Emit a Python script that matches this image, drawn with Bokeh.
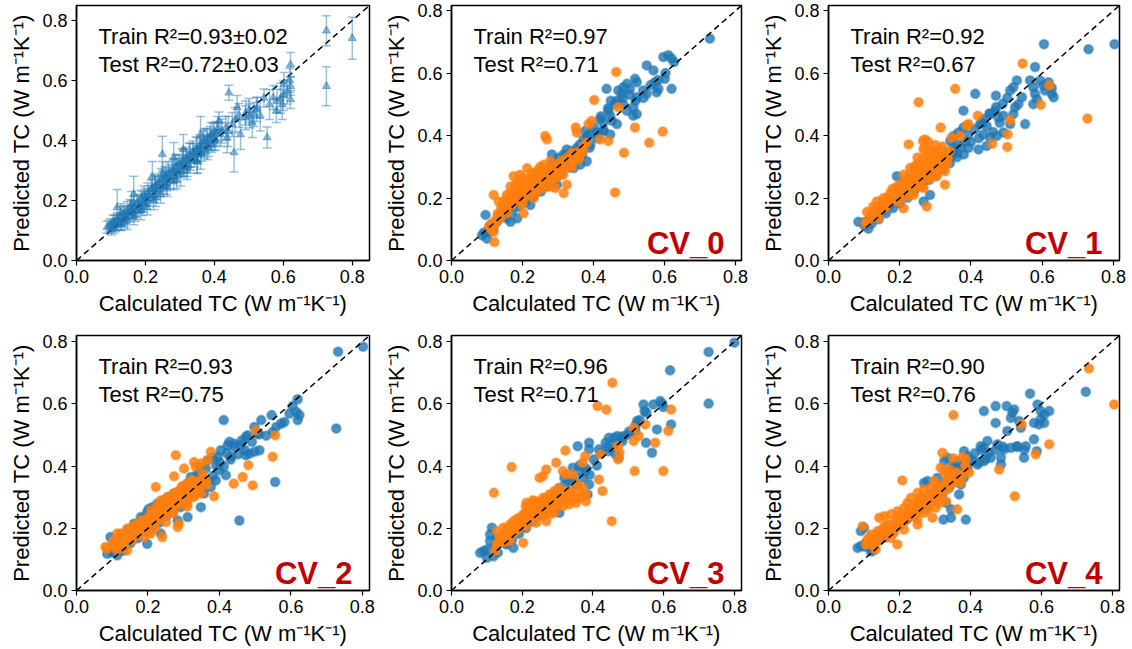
from bokeh.plotting import figure
from bokeh.models import ColumnDataSource, Whisker, TeeHead, Label, FixedTicker, PrintfTickFormatter
from bokeh.layouts import column, row
from bokeh.embed import file_html
from bokeh.resources import INLINE

FONT = "Liberation Sans"
BLUE = "#1f77b4"
ORANGE = "#ff7f0e"
RED = "#c00000"

# ---------------- data ----------------
tick_values = [0.0, 0.2, 0.4, 0.6, 0.8]
x_label = "Calculated TC (W m\u207b\u00b9K\u207b\u00b9)"
y_label = "Predicted TC (W m\u207b\u00b9K\u207b\u00b9)"

panel_names = ["", "CV_0", "CV_1", "CV_2", "CV_3", "CV_4"]
train_r2 = ["0.93\u00b10.02", "0.97", "0.92", "0.93", "0.96", "0.90"]
test_r2 = ["0.72\u00b10.03", "0.71", "0.67", "0.75", "0.71", "0.76"]
axis_limits = [0.85, 0.817, 0.817, 0.82, 0.82, 0.82]

# averaged predictions: (calculated, predicted, std)
avg_points = [
    (0.800, 0.741, 0.07), (0.725, 0.766, 0.05), (0.725, 0.581, 0.065), (0.621, 0.653, 0.04),
    (0.621, 0.581, 0.03), (0.621, 0.537, 0.03), (0.602, 0.587, 0.04), (0.582, 0.531, 0.04),
    (0.597, 0.520, 0.05), (0.553, 0.410, 0.035), (0.457, 0.360, 0.065), (0.466, 0.510, 0.04),
    (0.442, 0.559, 0.025), (0.515, 0.487, 0.04), (0.524, 0.509, 0.035), (0.544, 0.542, 0.03),
    (0.490, 0.476, 0.04), (0.476, 0.420, 0.05), (0.418, 0.420, 0.04), (0.437, 0.409, 0.05),
    (0.413, 0.465, 0.03), (0.399, 0.398, 0.03), (0.379, 0.376, 0.04), (0.360, 0.354, 0.05),
    (0.350, 0.332, 0.04), (0.321, 0.310, 0.03), (0.302, 0.288, 0.04), (0.282, 0.266, 0.03),
    (0.263, 0.243, 0.03), (0.244, 0.221, 0.03), (0.224, 0.199, 0.03), (0.205, 0.177, 0.025),
    (0.186, 0.166, 0.03), (0.166, 0.144, 0.025), (0.147, 0.133, 0.03), (0.128, 0.122, 0.02),
    (0.108, 0.111, 0.02), (0.089, 0.111, 0.02), (0.249, 0.354, 0.06), (0.166, 0.221, 0.06),
    (0.118, 0.177, 0.06), (0.282, 0.343, 0.05), (0.12, 0.14, 0.02), (0.13, 0.12, 0.02),
    (0.14, 0.15, 0.03), (0.15, 0.16, 0.02), (0.16, 0.17, 0.03), (0.17, 0.18, 0.02),
    (0.18, 0.19, 0.03), (0.19, 0.21, 0.02), (0.20, 0.21, 0.03), (0.21, 0.22, 0.03),
    (0.22, 0.24, 0.03), (0.23, 0.25, 0.03), (0.24, 0.26, 0.02), (0.25, 0.27, 0.03),
    (0.26, 0.28, 0.03), (0.27, 0.29, 0.03), (0.28, 0.30, 0.04), (0.29, 0.31, 0.03),
    (0.30, 0.32, 0.03), (0.31, 0.33, 0.04), (0.32, 0.34, 0.03), (0.33, 0.35, 0.04),
    (0.34, 0.36, 0.03), (0.35, 0.37, 0.04), (0.36, 0.38, 0.03), (0.37, 0.40, 0.04),
    (0.38, 0.41, 0.03), (0.39, 0.42, 0.04), (0.40, 0.43, 0.03), (0.14, 0.13, 0.02),
    (0.17, 0.15, 0.02), (0.20, 0.19, 0.02), (0.23, 0.21, 0.03), (0.26, 0.25, 0.03),
    (0.29, 0.27, 0.03), (0.32, 0.30, 0.03), (0.35, 0.33, 0.04), (0.10, 0.12, 0.02),
    (0.11, 0.13, 0.02), (0.16, 0.19, 0.04), (0.22, 0.28, 0.05), (0.31, 0.37, 0.05),
    (0.36, 0.42, 0.06), (0.41, 0.44, 0.04), (0.44, 0.43, 0.05), (0.46, 0.47, 0.04),
    (0.50, 0.50, 0.04), (0.51, 0.46, 0.05), (0.56, 0.52, 0.05), (0.58, 0.50, 0.04),
    (0.60, 0.55, 0.05), (0.13, 0.16, 0.03), (0.25, 0.29, 0.04), (0.19, 0.17, 0.02),
    (0.095, 0.115, 0.02), (0.102, 0.105, 0.02), (0.106, 0.127, 0.025), (0.113, 0.116, 0.02),
    (0.117, 0.136, 0.02), (0.122, 0.127, 0.025), (0.126, 0.148, 0.03), (0.133, 0.137, 0.02),
    (0.137, 0.158, 0.025), (0.142, 0.146, 0.02), (0.147, 0.167, 0.03), (0.153, 0.152, 0.02),
    (0.156, 0.178, 0.025), (0.162, 0.163, 0.02), (0.167, 0.183, 0.03), (0.172, 0.166, 0.02),
    (0.176, 0.193, 0.025), (0.183, 0.178, 0.02), (0.187, 0.204, 0.03), (0.192, 0.186, 0.025),
    (0.196, 0.218, 0.03), (0.202, 0.203, 0.02), (0.207, 0.228, 0.03), (0.212, 0.207, 0.025),
    (0.216, 0.238, 0.03), (0.223, 0.217, 0.02), (0.227, 0.248, 0.035), (0.232, 0.228, 0.025),
    (0.236, 0.258, 0.03), (0.242, 0.236, 0.025), (0.246, 0.272, 0.035), (0.252, 0.247, 0.025),
    (0.257, 0.283, 0.03), (0.262, 0.257, 0.025), (0.266, 0.293, 0.035), (0.272, 0.268, 0.03),
    (0.277, 0.302, 0.03), (0.283, 0.281, 0.025), (0.287, 0.313, 0.04), (0.292, 0.292, 0.03),
    (0.296, 0.323, 0.03), (0.303, 0.302, 0.025), (0.307, 0.333, 0.04), (0.312, 0.311, 0.03),
    (0.317, 0.342, 0.035), (0.323, 0.322, 0.03), (0.327, 0.352, 0.04), (0.332, 0.331, 0.03),
    (0.337, 0.363, 0.035), (0.342, 0.342, 0.03), (0.347, 0.372, 0.04), (0.352, 0.352, 0.03),
    (0.357, 0.383, 0.035), (0.362, 0.361, 0.03), (0.367, 0.392, 0.04), (0.372, 0.371, 0.03),
    (0.376, 0.397, 0.04), (0.383, 0.382, 0.035), (0.387, 0.407, 0.04), (0.392, 0.391, 0.03),
    (0.396, 0.418, 0.04), (0.403, 0.402, 0.035), (0.407, 0.423, 0.04), (0.422, 0.432, 0.04),
    (0.433, 0.441, 0.04), (0.452, 0.453, 0.04), (0.472, 0.483, 0.04), (0.491, 0.492, 0.04),
    (0.503, 0.482, 0.04), (0.522, 0.503, 0.04), (0.533, 0.482, 0.05), (0.571, 0.543, 0.04),
    (0.592, 0.541, 0.05), (0.611, 0.562, 0.04), (0.618, 0.601, 0.04),
]

cv0_train = [
    (0.728, 0.711), (0.597, 0.652), (0.611, 0.658), (0.620, 0.647), (0.627, 0.636), (0.550, 0.625),
    (0.569, 0.609), (0.601, 0.582), (0.573, 0.571), (0.517, 0.582), (0.522, 0.571), (0.494, 0.566),
    (0.484, 0.555), (0.503, 0.550), (0.437, 0.550), (0.470, 0.545), (0.480, 0.534), (0.540, 0.545),
    (0.550, 0.534), (0.522, 0.523), (0.578, 0.539), (0.583, 0.550), (0.620, 0.550), (0.449, 0.512),
    (0.466, 0.512), (0.484, 0.501), (0.512, 0.491), (0.522, 0.469), (0.494, 0.480), (0.512, 0.464),
    (0.442, 0.480), (0.447, 0.464), (0.466, 0.437), (0.419, 0.453), (0.428, 0.442), (0.409, 0.410),
    (0.428, 0.415), (0.447, 0.404), (0.377, 0.415), (0.391, 0.404), (0.372, 0.388), (0.391, 0.372),
    (0.353, 0.361), (0.339, 0.350), (0.325, 0.356), (0.316, 0.340), (0.302, 0.329), (0.283, 0.340),
    (0.363, 0.307), (0.381, 0.318), (0.334, 0.307), (0.344, 0.296), (0.297, 0.286), (0.306, 0.275),
    (0.260, 0.275), (0.241, 0.253), (0.213, 0.232), (0.231, 0.210), (0.166, 0.200), (0.175, 0.178),
    (0.147, 0.156), (0.156, 0.135), (0.128, 0.124), (0.110, 0.113), (0.096, 0.146), (0.086, 0.081),
    (0.100, 0.070), (0.105, 0.092), (0.166, 0.124), (0.185, 0.135), (0.222, 0.178), (0.278, 0.253),
    (0.297, 0.243), (0.092, 0.090), (0.118, 0.101), (0.132, 0.142), (0.151, 0.143), (0.171, 0.158),
    (0.189, 0.172), (0.209, 0.188), (0.231, 0.203), (0.252, 0.221), (0.271, 0.238), (0.291, 0.262),
    (0.309, 0.281), (0.331, 0.298), (0.349, 0.322), (0.368, 0.338), (0.389, 0.361), (0.411, 0.392),
    (0.428, 0.418), (0.452, 0.448), (0.362, 0.372), (0.382, 0.398), (0.401, 0.428), (0.421, 0.462),
    (0.441, 0.488), (0.461, 0.502), (0.482, 0.522), (0.501, 0.531), (0.519, 0.512), (0.541, 0.521),
    (0.561, 0.562), (0.582, 0.578), (0.603, 0.601), (0.322, 0.338), (0.302, 0.318), (0.281, 0.308),
]
cv0_test = [
    (0.464, 0.604), (0.402, 0.514), (0.470, 0.491), (0.517, 0.426), (0.595, 0.413), (0.557, 0.377),
    (0.486, 0.345), (0.461, 0.218), (0.419, 0.388), (0.442, 0.383), (0.350, 0.426), (0.353, 0.410),
    (0.386, 0.437), (0.395, 0.447), (0.264, 0.399), (0.269, 0.388), (0.381, 0.377), (0.372, 0.367),
    (0.339, 0.345), (0.353, 0.334), (0.363, 0.342), (0.325, 0.329), (0.334, 0.313), (0.306, 0.307),
    (0.316, 0.296), (0.297, 0.291), (0.278, 0.318), (0.260, 0.307), (0.245, 0.291), (0.213, 0.296),
    (0.231, 0.280), (0.175, 0.270), (0.194, 0.275), (0.222, 0.264), (0.269, 0.264), (0.288, 0.275),
    (0.325, 0.243), (0.316, 0.216), (0.292, 0.232), (0.278, 0.237), (0.241, 0.248), (0.260, 0.232),
    (0.203, 0.243), (0.213, 0.232), (0.189, 0.226), (0.175, 0.221), (0.156, 0.210), (0.166, 0.216),
    (0.152, 0.194), (0.119, 0.210), (0.133, 0.189), (0.185, 0.205), (0.194, 0.189), (0.222, 0.216),
    (0.231, 0.200), (0.241, 0.221), (0.171, 0.178), (0.147, 0.167), (0.156, 0.151), (0.203, 0.151),
    (0.138, 0.135), (0.124, 0.119), (0.110, 0.102), (0.105, 0.108), (0.119, 0.092), (0.121, 0.059),
    (0.185, 0.253), (0.203, 0.264), (0.166, 0.237), (0.250, 0.270), (0.300, 0.270), (0.340, 0.300),
    (0.230, 0.250), (0.210, 0.215), (0.280, 0.250), (0.130, 0.150), (0.140, 0.170), (0.145, 0.185),
    (0.160, 0.180), (0.165, 0.195), (0.175, 0.200), (0.180, 0.215), (0.190, 0.210), (0.195, 0.230),
    (0.200, 0.225), (0.205, 0.200), (0.210, 0.245), (0.215, 0.255), (0.220, 0.235), (0.225, 0.250),
    (0.235, 0.240), (0.235, 0.265), (0.245, 0.255), (0.250, 0.235), (0.255, 0.280), (0.260, 0.255),
    (0.265, 0.245), (0.270, 0.285), (0.275, 0.270), (0.285, 0.260), (0.290, 0.295), (0.295, 0.265),
    (0.300, 0.310), (0.305, 0.285), (0.310, 0.320), (0.315, 0.275), (0.320, 0.310), (0.330, 0.300),
    (0.335, 0.330), (0.345, 0.320), (0.355, 0.345), (0.360, 0.325), (0.370, 0.350), (0.180, 0.240),
    (0.155, 0.165), (0.125, 0.130), (0.115, 0.120), (0.200, 0.180), (0.240, 0.230), (0.280, 0.290),
    (0.250, 0.300), (0.225, 0.280), (0.195, 0.250),
]

cv1_train = [
    (0.803, 0.693), (0.730, 0.677), (0.605, 0.693), (0.580, 0.620), (0.594, 0.577), (0.603, 0.561),
    (0.618, 0.571), (0.627, 0.553), (0.608, 0.545), (0.566, 0.577), (0.575, 0.555), (0.580, 0.534),
    (0.585, 0.517), (0.575, 0.501), (0.552, 0.437), (0.627, 0.534), (0.632, 0.523), (0.529, 0.577),
    (0.519, 0.555), (0.510, 0.545), (0.543, 0.523), (0.533, 0.501), (0.524, 0.491), (0.412, 0.534),
    (0.470, 0.528), (0.379, 0.480), (0.468, 0.480), (0.477, 0.458), (0.454, 0.469), (0.435, 0.453),
    (0.444, 0.431), (0.426, 0.437), (0.491, 0.464), (0.510, 0.437), (0.519, 0.469), (0.435, 0.404),
    (0.454, 0.394), (0.472, 0.399), (0.491, 0.410), (0.444, 0.367), (0.393, 0.361), (0.421, 0.356),
    (0.379, 0.426), (0.365, 0.410), (0.351, 0.399), (0.342, 0.383), (0.351, 0.361), (0.360, 0.345),
    (0.342, 0.329), (0.323, 0.318), (0.313, 0.296), (0.299, 0.286), (0.285, 0.275), (0.267, 0.253),
    (0.248, 0.243), (0.211, 0.253), (0.192, 0.270), (0.229, 0.232), (0.211, 0.210), (0.192, 0.189),
    (0.173, 0.178), (0.154, 0.162), (0.136, 0.146), (0.117, 0.135), (0.103, 0.124), (0.084, 0.124),
    (0.112, 0.102), (0.267, 0.189), (0.285, 0.210), (0.400, 0.380), (0.380, 0.340), (0.101, 0.112),
    (0.121, 0.118), (0.141, 0.132), (0.161, 0.151), (0.181, 0.168), (0.201, 0.182), (0.222, 0.201),
    (0.241, 0.222), (0.262, 0.238), (0.281, 0.258), (0.301, 0.271), (0.321, 0.292), (0.341, 0.312),
    (0.361, 0.331), (0.372, 0.362), (0.383, 0.381), (0.362, 0.372), (0.392, 0.402), (0.411, 0.421),
    (0.431, 0.442), (0.452, 0.471), (0.471, 0.492), (0.489, 0.502), (0.502, 0.521), (0.481, 0.441),
    (0.462, 0.412), (0.422, 0.392), (0.331, 0.332), (0.352, 0.351), (0.311, 0.312), (0.291, 0.291),
]
cv1_test = [
    (0.545, 0.631), (0.356, 0.550), (0.253, 0.507), (0.620, 0.561), (0.596, 0.499), (0.727, 0.455),
    (0.510, 0.450), (0.503, 0.404), (0.502, 0.364), (0.460, 0.374), (0.419, 0.464), (0.393, 0.437),
    (0.388, 0.433), (0.370, 0.399), (0.346, 0.394), (0.315, 0.426), (0.225, 0.372), (0.265, 0.383),
    (0.271, 0.388), (0.267, 0.356), (0.285, 0.350), (0.299, 0.340), (0.318, 0.350), (0.323, 0.329),
    (0.309, 0.318), (0.332, 0.307), (0.285, 0.307), (0.267, 0.329), (0.248, 0.307), (0.229, 0.296),
    (0.211, 0.275), (0.257, 0.275), (0.276, 0.264), (0.304, 0.270), (0.327, 0.286), (0.229, 0.253),
    (0.248, 0.237), (0.267, 0.232), (0.192, 0.232), (0.201, 0.216), (0.220, 0.205), (0.173, 0.216),
    (0.154, 0.200), (0.164, 0.183), (0.136, 0.189), (0.126, 0.173), (0.150, 0.167), (0.192, 0.189),
    (0.211, 0.167), (0.239, 0.210), (0.276, 0.173), (0.327, 0.243), (0.108, 0.156), (0.117, 0.146),
    (0.108, 0.124), (0.103, 0.119), (0.140, 0.135), (0.240, 0.280), (0.220, 0.240), (0.300, 0.300),
    (0.260, 0.290), (0.120, 0.140), (0.130, 0.160), (0.145, 0.175), (0.155, 0.190), (0.165, 0.200),
    (0.175, 0.195), (0.185, 0.215), (0.195, 0.240), (0.205, 0.225), (0.210, 0.250), (0.215, 0.235),
    (0.225, 0.265), (0.230, 0.275), (0.235, 0.245), (0.240, 0.300), (0.245, 0.265), (0.250, 0.285),
    (0.255, 0.255), (0.260, 0.310), (0.265, 0.270), (0.270, 0.300), (0.275, 0.285), (0.280, 0.335),
    (0.285, 0.260), (0.290, 0.320), (0.295, 0.290), (0.300, 0.345), (0.305, 0.280), (0.310, 0.330),
    (0.315, 0.300), (0.320, 0.365), (0.325, 0.310), (0.330, 0.340), (0.335, 0.325), (0.340, 0.350),
    (0.280, 0.380), (0.270, 0.360), (0.300, 0.370), (0.310, 0.355), (0.200, 0.195), (0.180, 0.230),
    (0.160, 0.170), (0.140, 0.150), (0.230, 0.220), (0.260, 0.240), (0.250, 0.330), (0.290, 0.350),
]

cv2_train = [
    (0.802, 0.784), (0.732, 0.768), (0.727, 0.521), (0.556, 0.349), (0.456, 0.225), (0.412, 0.548),
    (0.619, 0.615), (0.605, 0.593), (0.615, 0.574), (0.619, 0.548), (0.596, 0.569), (0.582, 0.542),
    (0.624, 0.564), (0.546, 0.564), (0.517, 0.548), (0.498, 0.526), (0.507, 0.505), (0.559, 0.526),
    (0.573, 0.537), (0.549, 0.510), (0.512, 0.451), (0.498, 0.446), (0.484, 0.440), (0.474, 0.435),
    (0.479, 0.499), (0.474, 0.494), (0.460, 0.467), (0.428, 0.478), (0.423, 0.467), (0.442, 0.462),
    (0.432, 0.430), (0.404, 0.451), (0.395, 0.430), (0.400, 0.387), (0.418, 0.371), (0.390, 0.354),
    (0.367, 0.419), (0.348, 0.397), (0.339, 0.376), (0.320, 0.365), (0.311, 0.344), (0.297, 0.333),
    (0.273, 0.312), (0.259, 0.301), (0.245, 0.290), (0.226, 0.279), (0.212, 0.268), (0.198, 0.252),
    (0.180, 0.236), (0.161, 0.215), (0.142, 0.193), (0.124, 0.172), (0.105, 0.150), (0.095, 0.129),
    (0.086, 0.118), (0.114, 0.113), (0.095, 0.172), (0.198, 0.150), (0.236, 0.183), (0.283, 0.225),
    (0.311, 0.236), (0.348, 0.268), (0.357, 0.312), (0.376, 0.333), (0.101, 0.122), (0.131, 0.128),
    (0.151, 0.152), (0.171, 0.168), (0.191, 0.188), (0.211, 0.202), (0.231, 0.218), (0.251, 0.238),
    (0.271, 0.262), (0.291, 0.268), (0.309, 0.291), (0.331, 0.308), (0.351, 0.331), (0.369, 0.352),
    (0.382, 0.368), (0.391, 0.402), (0.401, 0.412), (0.412, 0.398), (0.431, 0.421), (0.452, 0.438),
    (0.471, 0.452), (0.362, 0.392), (0.341, 0.372), (0.381, 0.428), (0.421, 0.441), (0.441, 0.472),
    (0.462, 0.482), (0.491, 0.478), (0.511, 0.502), (0.531, 0.498), (0.202, 0.262), (0.182, 0.228),
]
cv2_test = [
    (0.502, 0.515), (0.556, 0.499), (0.549, 0.430), (0.481, 0.403), (0.440, 0.344), (0.465, 0.365),
    (0.493, 0.338), (0.278, 0.435), (0.273, 0.367), (0.222, 0.333), (0.301, 0.392), (0.329, 0.413),
    (0.334, 0.397), (0.348, 0.408), (0.367, 0.419), (0.376, 0.446), (0.353, 0.376), (0.362, 0.354),
    (0.385, 0.303), (0.320, 0.349), (0.339, 0.333), (0.348, 0.312), (0.329, 0.301), (0.311, 0.322),
    (0.292, 0.322), (0.273, 0.312), (0.254, 0.301), (0.264, 0.285), (0.236, 0.290), (0.226, 0.274),
    (0.245, 0.268), (0.283, 0.274), (0.301, 0.290), (0.208, 0.258), (0.217, 0.242), (0.198, 0.226),
    (0.226, 0.226), (0.236, 0.247), (0.180, 0.226), (0.161, 0.209), (0.170, 0.193), (0.142, 0.199),
    (0.124, 0.183), (0.133, 0.161), (0.114, 0.183), (0.105, 0.161), (0.086, 0.134), (0.081, 0.140),
    (0.189, 0.172), (0.208, 0.183), (0.240, 0.172), (0.283, 0.204), (0.287, 0.215), (0.156, 0.161),
    (0.142, 0.129), (0.114, 0.129), (0.250, 0.260), (0.270, 0.250), (0.310, 0.280), (0.100, 0.150),
    (0.110, 0.140), (0.120, 0.165), (0.130, 0.150), (0.140, 0.175), (0.150, 0.185), (0.155, 0.200),
    (0.165, 0.180), (0.170, 0.210), (0.180, 0.200), (0.185, 0.220), (0.190, 0.210), (0.200, 0.235),
    (0.205, 0.215), (0.210, 0.245), (0.220, 0.230), (0.225, 0.255), (0.230, 0.240), (0.235, 0.265),
    (0.240, 0.250), (0.245, 0.280), (0.250, 0.240), (0.255, 0.295), (0.260, 0.270), (0.265, 0.300),
    (0.270, 0.280), (0.275, 0.310), (0.280, 0.290), (0.285, 0.320), (0.290, 0.280), (0.295, 0.335),
    (0.300, 0.310), (0.305, 0.300), (0.310, 0.345), (0.315, 0.325), (0.320, 0.300), (0.325, 0.355),
    (0.330, 0.320), (0.340, 0.350), (0.345, 0.330), (0.355, 0.360), (0.365, 0.340), (0.270, 0.250),
    (0.250, 0.220), (0.220, 0.200), (0.200, 0.190), (0.310, 0.270),
]

cv3_train = [
    (0.800, 0.797), (0.727, 0.767), (0.727, 0.601), (0.618, 0.708), (0.621, 0.534), (0.581, 0.518),
    (0.567, 0.443), (0.550, 0.475), (0.543, 0.598), (0.546, 0.577), (0.571, 0.598), (0.590, 0.609),
    (0.599, 0.590), (0.595, 0.601), (0.525, 0.545), (0.520, 0.513), (0.501, 0.502), (0.487, 0.497),
    (0.483, 0.480), (0.469, 0.497), (0.459, 0.491), (0.445, 0.491), (0.436, 0.475), (0.445, 0.448),
    (0.464, 0.438), (0.473, 0.427), (0.389, 0.475), (0.389, 0.454), (0.417, 0.454), (0.357, 0.464),
    (0.343, 0.395), (0.361, 0.384), (0.380, 0.384), (0.319, 0.362), (0.333, 0.352), (0.385, 0.309),
    (0.389, 0.341), (0.305, 0.330), (0.287, 0.309), (0.273, 0.287), (0.254, 0.277), (0.240, 0.261),
    (0.221, 0.245), (0.305, 0.250), (0.203, 0.223), (0.184, 0.207), (0.165, 0.196), (0.147, 0.180),
    (0.128, 0.169), (0.109, 0.159), (0.109, 0.180), (0.114, 0.202), (0.091, 0.127), (0.081, 0.121),
    (0.100, 0.105), (0.119, 0.110), (0.175, 0.137), (0.156, 0.148), (0.101, 0.132), (0.121, 0.141),
    (0.131, 0.122), (0.151, 0.152), (0.171, 0.162), (0.191, 0.182), (0.211, 0.201), (0.231, 0.222),
    (0.251, 0.241), (0.271, 0.258), (0.291, 0.281), (0.311, 0.302), (0.331, 0.318), (0.351, 0.342),
    (0.371, 0.362), (0.362, 0.402), (0.381, 0.392), (0.402, 0.421), (0.421, 0.442), (0.441, 0.461),
    (0.462, 0.472), (0.481, 0.492), (0.502, 0.511), (0.521, 0.532), (0.532, 0.548), (0.551, 0.572),
    (0.391, 0.372), (0.411, 0.402), (0.342, 0.362), (0.322, 0.341),
]
cv3_test = [
    (0.455, 0.668), (0.413, 0.593), (0.438, 0.582), (0.621, 0.582), (0.548, 0.534), (0.515, 0.523),
    (0.529, 0.497), (0.515, 0.481), (0.613, 0.513), (0.576, 0.475), (0.471, 0.464), (0.475, 0.443),
    (0.471, 0.422), (0.421, 0.438), (0.378, 0.432), (0.371, 0.411), (0.322, 0.450), (0.296, 0.411),
    (0.268, 0.389), (0.170, 0.397), (0.518, 0.384), (0.599, 0.384), (0.453, 0.223), (0.417, 0.357),
    (0.427, 0.320), (0.120, 0.314), (0.249, 0.362), (0.259, 0.368), (0.315, 0.384), (0.324, 0.373),
    (0.343, 0.373), (0.357, 0.341), (0.371, 0.330), (0.305, 0.330), (0.291, 0.320), (0.277, 0.309),
    (0.333, 0.314), (0.352, 0.298), (0.380, 0.287), (0.259, 0.298), (0.240, 0.287), (0.226, 0.277),
    (0.212, 0.282), (0.296, 0.279), (0.315, 0.271), (0.333, 0.277), (0.352, 0.282), (0.226, 0.255),
    (0.203, 0.245), (0.193, 0.234), (0.231, 0.245), (0.259, 0.250), (0.277, 0.245), (0.175, 0.223),
    (0.165, 0.212), (0.147, 0.202), (0.128, 0.191), (0.184, 0.196), (0.212, 0.207), (0.240, 0.218),
    (0.268, 0.223), (0.137, 0.169), (0.156, 0.180), (0.203, 0.153), (0.165, 0.159), (0.123, 0.127),
    (0.128, 0.148), (0.250, 0.260), (0.280, 0.265), (0.300, 0.290), (0.130, 0.150), (0.140, 0.170),
    (0.145, 0.155), (0.155, 0.190), (0.160, 0.175), (0.170, 0.200), (0.175, 0.185), (0.180, 0.210),
    (0.190, 0.200), (0.195, 0.225), (0.200, 0.215), (0.205, 0.240), (0.210, 0.230), (0.215, 0.255),
    (0.220, 0.245), (0.225, 0.265), (0.230, 0.235), (0.235, 0.275), (0.240, 0.255), (0.245, 0.280),
    (0.250, 0.245), (0.255, 0.285), (0.260, 0.265), (0.265, 0.295), (0.270, 0.260), (0.275, 0.300),
    (0.280, 0.280), (0.285, 0.305), (0.290, 0.270), (0.295, 0.315), (0.300, 0.275), (0.305, 0.310),
    (0.310, 0.285), (0.320, 0.320), (0.325, 0.290), (0.335, 0.300), (0.340, 0.320), (0.350, 0.295),
    (0.360, 0.315), (0.370, 0.300), (0.380, 0.310), (0.230, 0.290), (0.210, 0.270), (0.185, 0.230),
    (0.160, 0.200), (0.260, 0.240), (0.290, 0.250),
]

cv4_train = [
    (0.725, 0.639), (0.568, 0.633), (0.438, 0.577), (0.471, 0.593), (0.502, 0.593), (0.518, 0.572),
    (0.523, 0.582), (0.514, 0.555), (0.471, 0.539), (0.589, 0.598), (0.598, 0.577), (0.608, 0.566),
    (0.622, 0.577), (0.598, 0.550), (0.608, 0.539), (0.579, 0.539), (0.593, 0.534), (0.537, 0.545),
    (0.542, 0.523), (0.504, 0.513), (0.579, 0.486), (0.587, 0.448), (0.551, 0.427), (0.556, 0.464),
    (0.532, 0.464), (0.514, 0.459), (0.495, 0.454), (0.476, 0.470), (0.448, 0.481), (0.438, 0.459),
    (0.429, 0.464), (0.486, 0.427), (0.486, 0.405), (0.457, 0.427), (0.438, 0.416), (0.420, 0.405),
    (0.401, 0.416), (0.382, 0.448), (0.392, 0.395), (0.363, 0.416), (0.354, 0.395), (0.345, 0.373),
    (0.335, 0.427), (0.326, 0.416), (0.382, 0.363), (0.373, 0.341), (0.368, 0.309), (0.324, 0.228),
    (0.345, 0.234), (0.387, 0.228), (0.345, 0.261), (0.331, 0.282), (0.269, 0.346), (0.279, 0.352),
    (0.307, 0.362), (0.326, 0.341), (0.307, 0.330), (0.288, 0.309), (0.269, 0.287), (0.255, 0.277),
    (0.241, 0.255), (0.223, 0.234), (0.204, 0.223), (0.185, 0.202), (0.166, 0.186), (0.147, 0.175),
    (0.129, 0.164), (0.115, 0.159), (0.082, 0.137), (0.091, 0.143), (0.105, 0.153), (0.119, 0.127),
    (0.091, 0.191), (0.100, 0.202), (0.124, 0.127), (0.101, 0.141), (0.121, 0.152), (0.141, 0.162),
    (0.161, 0.171), (0.181, 0.192), (0.201, 0.211), (0.221, 0.228), (0.241, 0.242), (0.261, 0.262),
    (0.281, 0.271), (0.301, 0.292), (0.321, 0.311), (0.341, 0.332), (0.361, 0.352), (0.372, 0.382),
    (0.381, 0.402), (0.402, 0.421), (0.412, 0.441), (0.431, 0.452), (0.451, 0.442), (0.471, 0.452),
    (0.492, 0.462), (0.442, 0.422), (0.422, 0.412), (0.392, 0.432), (0.352, 0.402), (0.342, 0.382),
    (0.332, 0.352), (0.362, 0.392), (0.531, 0.462), (0.552, 0.452),
]
cv4_test = [
    (0.734, 0.714), (0.805, 0.598), (0.352, 0.564), (0.544, 0.534), (0.622, 0.470), (0.584, 0.438),
    (0.481, 0.389), (0.525, 0.303), (0.321, 0.443), (0.352, 0.425), (0.377, 0.429), (0.387, 0.421),
    (0.392, 0.384), (0.396, 0.379), (0.208, 0.354), (0.363, 0.261), (0.194, 0.148), (0.096, 0.207),
    (0.316, 0.395), (0.326, 0.384), (0.345, 0.373), (0.354, 0.362), (0.373, 0.346), (0.335, 0.341),
    (0.298, 0.352), (0.307, 0.336), (0.288, 0.330), (0.269, 0.325), (0.251, 0.314), (0.307, 0.309),
    (0.331, 0.287), (0.232, 0.298), (0.223, 0.282), (0.213, 0.266), (0.251, 0.287), (0.269, 0.277),
    (0.288, 0.287), (0.302, 0.266), (0.194, 0.255), (0.176, 0.245), (0.157, 0.239), (0.143, 0.234),
    (0.194, 0.234), (0.213, 0.223), (0.241, 0.239), (0.269, 0.250), (0.293, 0.234), (0.251, 0.212),
    (0.166, 0.212), (0.152, 0.196), (0.138, 0.191), (0.119, 0.180), (0.110, 0.164), (0.105, 0.148),
    (0.129, 0.153), (0.133, 0.132), (0.176, 0.169), (0.185, 0.186), (0.213, 0.196), (0.157, 0.207),
    (0.240, 0.260), (0.225, 0.245), (0.260, 0.300), (0.110, 0.150), (0.120, 0.170), (0.125, 0.145),
    (0.135, 0.180), (0.140, 0.160), (0.150, 0.190), (0.155, 0.175), (0.165, 0.200), (0.170, 0.185),
    (0.180, 0.215), (0.185, 0.200), (0.195, 0.225), (0.200, 0.210), (0.205, 0.240), (0.210, 0.225),
    (0.220, 0.250), (0.225, 0.235), (0.230, 0.265), (0.235, 0.245), (0.245, 0.270), (0.250, 0.255),
    (0.255, 0.285), (0.260, 0.265), (0.265, 0.295), (0.270, 0.275), (0.280, 0.300), (0.285, 0.280),
    (0.290, 0.310), (0.295, 0.295), (0.300, 0.320), (0.310, 0.300), (0.315, 0.335), (0.320, 0.315),
    (0.330, 0.350), (0.335, 0.325), (0.340, 0.360), (0.350, 0.345), (0.360, 0.380), (0.365, 0.355),
    (0.375, 0.370), (0.385, 0.400), (0.330, 0.380), (0.340, 0.390), (0.250, 0.230), (0.280, 0.260),
    (0.310, 0.280),
]

cv_train = [cv0_train, cv1_train, cv2_train, cv3_train, cv4_train]
cv_test = [cv0_test, cv1_test, cv2_test, cv3_test, cv4_test]

# ---------------- layout (pixels) ----------------
col_left = [76, 74, 74]
col_frame = [293, 290, 291]
col_right = [8, 13, 13]
row_top = [5, 15]
row_bottom = [60, 59]
FRAME_H = 255


def make_fig(idx):
    r, c = divmod(idx, 3)
    lim = axis_limits[idx]
    p = figure(frame_width=col_frame[c], frame_height=FRAME_H,
               min_border_left=col_left[c], min_border_right=col_right[c],
               min_border_top=row_top[r], min_border_bottom=row_bottom[r],
               x_range=(0, lim), y_range=(0, lim),
               output_backend="svg", toolbar_location=None, tools="")
    p.grid.visible = False
    p.background_fill_color = "white"
    p.border_fill_color = "white"
    p.outline_line_color = "black"
    p.outline_line_width = 1.5
    p.outline_line_alpha = 1.0
    p.xaxis.axis_label = x_label
    p.yaxis.axis_label = y_label
    for ax in (p.xaxis[0], p.yaxis[0]):
        ax.ticker = FixedTicker(ticks=tick_values)
        ax.formatter = PrintfTickFormatter(format="%.1f")
        ax.major_label_text_font = FONT
        ax.major_label_text_font_size = "18px"
        ax.major_label_text_color = "black"
        ax.axis_label_text_font = FONT
        ax.axis_label_text_font_size = "22px"
        ax.axis_label_text_font_style = "normal"
        ax.axis_label_text_color = "black"
        ax.axis_line_color = "black"
        ax.axis_line_width = 1.5
        ax.major_tick_line_color = "black"
        ax.major_tick_line_width = 1.2
        ax.major_tick_out = 5
        ax.major_tick_in = 0
        ax.minor_tick_out = 0
        ax.minor_tick_in = 0
        ax.major_label_standoff = 4
        ax.axis_label_standoff = 5
    return p, lim


figs = []
for i in range(6):
    p, lim = make_fig(i)
    c = i % 3
    fw = col_frame[c]
    if i == 0:
        xs = [t[0] for t in avg_points]
        ys = [t[1] for t in avg_points]
        es = [t[2] for t in avg_points]
        src = ColumnDataSource(dict(x=xs, y=ys,
                                    upper=[a + b for a, b in zip(ys, es)],
                                    lower=[a - b for a, b in zip(ys, es)]))
        w = Whisker(source=src, base="x", upper="upper", lower="lower", dimension="height",
                    line_color=BLUE, line_alpha=0.45, line_width=1.5,
                    upper_head=TeeHead(size=9, line_color=BLUE, line_alpha=0.45, line_width=1.5),
                    lower_head=TeeHead(size=9, line_color=BLUE, line_alpha=0.45, line_width=1.5))
        w.level = "glyph"
        p.add_layout(w)
        p.scatter("x", "y", source=src, marker="triangle", size=8,
                  fill_color=BLUE, fill_alpha=0.5, line_color=BLUE, line_alpha=0.5)
    else:
        tr = cv_train[i - 1]
        te = cv_test[i - 1]
        p.scatter([t[0] for t in tr], [t[1] for t in tr], marker="circle", size=9,
                  fill_color=BLUE, fill_alpha=0.8, line_color=BLUE, line_alpha=0.45, line_width=2)
        p.scatter([t[0] for t in te], [t[1] for t in te], marker="circle", size=9,
                  fill_color=ORANGE, fill_alpha=0.85, line_color=ORANGE, line_alpha=0.45, line_width=2)
        p.add_layout(Label(x=lim * (1 - 17 / fw), y=lim * 17 / FRAME_H, text=panel_names[i],
                           text_font=FONT, text_font_size="31px", text_font_style="bold",
                           text_color=RED, text_align="right", text_baseline="alphabetic"))
    p.line([0, lim], [0, lim], line_color="black", line_dash="6 4", line_width=1.5)
    p.add_layout(Label(x=lim * 22 / fw, y=lim * (1 - 31 / FRAME_H), text="Train R\u00b2=" + train_r2[i],
                       text_font=FONT, text_font_size="22px", text_color="black",
                       text_baseline="alphabetic"))
    p.add_layout(Label(x=lim * 22 / fw, y=lim * (1 - 59 / FRAME_H), text="Test R\u00b2=" + test_r2[i],
                       text_font=FONT, text_font_size="22px", text_color="black",
                       text_baseline="alphabetic"))
    figs.append(p)

layout = column(row(figs[0], figs[1], figs[2]), row(figs[3], figs[4], figs[5]))
open("out.html", "w").write(file_html(layout, INLINE))
